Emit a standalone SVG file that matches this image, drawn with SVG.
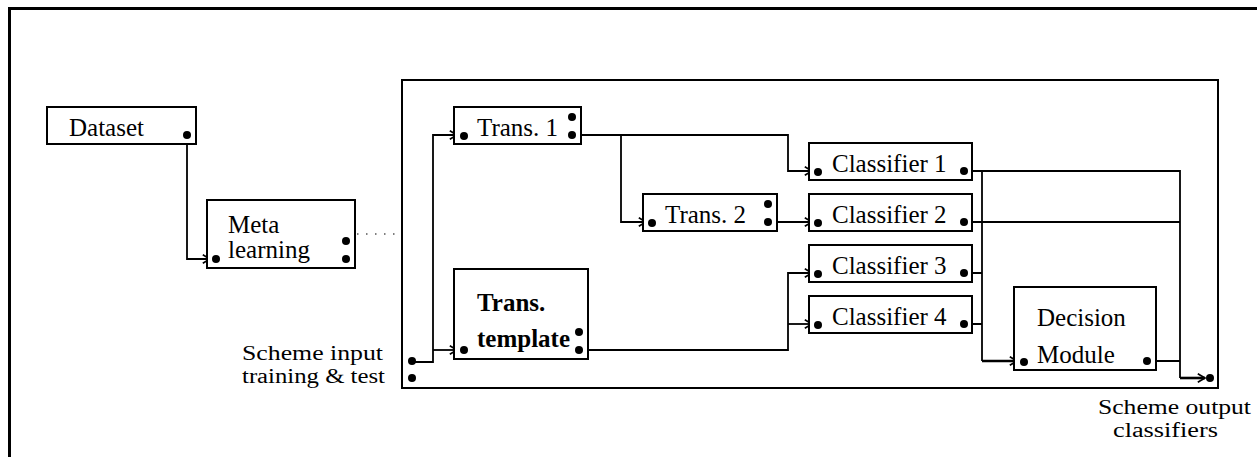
<svg xmlns="http://www.w3.org/2000/svg" width="1257" height="457" viewBox="0 0 1257 457">
<defs>
<style>
.box{fill:#fff;stroke:#000;stroke-width:2}
.t{font-family:"Liberation Serif","Times New Roman",serif;font-size:25px;fill:#000}
.s{font-size:20px}
.b{font-weight:bold}
.dot{fill:#000}
.c{fill:none;stroke:#000;stroke-width:1.8}
.thick{stroke-width:2.6}
</style>
<marker id="ar" markerUnits="userSpaceOnUse" markerWidth="12" markerHeight="12" viewBox="-8 -5 10 10" refX="0" refY="0" orient="auto">
<path d="M-6,-3.5 L0,0 L-6,3.5" fill="none" stroke="#000" stroke-width="1.4"/>
</marker>
</defs>
<rect width="1257" height="457" fill="#fff"/>
<path d="M9.5,457 V8.5 H1257" fill="none" stroke="#000" stroke-width="3"/>

<g id="connectors">
<path class="c" d="M187,135 V259 H210" marker-end="url(#ar)"/>
<path d="M357,234 H398" fill="none" stroke="#000" stroke-width="1.2" stroke-dasharray="1.5,7.5"/>
<path class="c" d="M412,362 H433 V135 H457" marker-end="url(#ar)"/>
<path class="c" d="M433,350 H457" marker-end="url(#ar)"/>
<path class="c" d="M572,135 H788 V171 H812" marker-end="url(#ar)"/>
<path class="c" d="M621,135 V222 H646" marker-end="url(#ar)"/>
<path class="c" d="M768,222 H812" marker-end="url(#ar)"/>
<path class="c" d="M579,350 H788 V273 H812" marker-end="url(#ar)"/>
<path class="c" d="M788,324 H812" marker-end="url(#ar)"/>
<path class="c" d="M964,171 H1180 V378"/>
<path class="c thick" d="M1180,378 H1205" marker-end="url(#ar)"/>
<path class="c" d="M964,222 H1180"/>
<path class="c" d="M982,171 V361"/>
<path class="c thick" d="M982,361 H1017" marker-end="url(#ar)"/>
<path class="c" d="M964,273 H982 M964,324 H982"/>
<path class="c" d="M1147,361 H1180"/>
</g>

<g id="frame">
<rect x="402" y="80" width="816" height="308" fill="none" stroke="#000" stroke-width="2"/>
</g>

<g id="dataset">
<rect class="box" x="47" y="107" width="149" height="37"/>
<text class="t" x="69" y="136">Dataset</text>
<circle class="dot" cx="187" cy="135" r="4"/>
</g>

<g id="meta">
<rect class="box" x="207" y="200" width="148" height="68"/>
<text class="t" x="228" y="233">Meta</text>
<text class="t" x="228" y="258">learning</text>
<circle class="dot" cx="216" cy="259" r="4"/>
<circle class="dot" cx="346" cy="241" r="4"/>
<circle class="dot" cx="346" cy="259" r="4"/>
</g>

<g id="trans1">
<rect class="box" x="454" y="107" width="127" height="37"/>
<text class="t" x="477" y="136">Trans. 1</text>
<circle class="dot" cx="464" cy="136" r="4"/>
<circle class="dot" cx="572" cy="117" r="4"/>
<circle class="dot" cx="572" cy="135" r="4"/>
</g>

<g id="trans2">
<rect class="box" x="643" y="194" width="134" height="37"/>
<text class="t" x="665" y="223">Trans. 2</text>
<circle class="dot" cx="652" cy="223" r="4"/>
<circle class="dot" cx="768" cy="204" r="4"/>
<circle class="dot" cx="768" cy="222" r="4"/>
</g>

<g id="template">
<rect class="box" x="454" y="269" width="134" height="90"/>
<text class="t b" x="477" y="311">Trans.</text>
<text class="t b" x="477" y="347">template</text>
<circle class="dot" cx="464" cy="350" r="4"/>
<circle class="dot" cx="579" cy="332" r="4"/>
<circle class="dot" cx="579" cy="350" r="4"/>
</g>

<g id="classifier1">
<rect class="box" x="809" y="143" width="163" height="37"/>
<text class="t" x="832" y="172">Classifier 1</text>
<circle class="dot" cx="818" cy="172" r="4"/>
<circle class="dot" cx="964" cy="171" r="4"/>
</g>
<g id="classifier2">
<rect class="box" x="809" y="194" width="163" height="37"/>
<text class="t" x="832" y="223">Classifier 2</text>
<circle class="dot" cx="818" cy="223" r="4"/>
<circle class="dot" cx="964" cy="222" r="4"/>
</g>
<g id="classifier3">
<rect class="box" x="809" y="245" width="163" height="37"/>
<text class="t" x="832" y="274">Classifier 3</text>
<circle class="dot" cx="818" cy="274" r="4"/>
<circle class="dot" cx="964" cy="273" r="4"/>
</g>
<g id="classifier4">
<rect class="box" x="809" y="296" width="163" height="37"/>
<text class="t" x="832" y="325">Classifier 4</text>
<circle class="dot" cx="818" cy="325" r="4"/>
<circle class="dot" cx="964" cy="324" r="4"/>
</g>

<g id="decision">
<rect class="box" x="1014" y="287" width="142" height="83"/>
<text class="t" x="1037" y="326">Decision</text>
<text class="t" x="1037" y="363">Module</text>
<circle class="dot" cx="1024" cy="362" r="4"/>
<circle class="dot" cx="1147" cy="361" r="4"/>
</g>

<g id="scheme-input">
<text class="t s" x="242" y="359.5" textLength="141" lengthAdjust="spacingAndGlyphs">Scheme input</text>
<text class="t s" x="242" y="382.5" textLength="143" lengthAdjust="spacingAndGlyphs">training &amp; test</text>
<circle class="dot" cx="412" cy="361" r="4"/>
<circle class="dot" cx="412" cy="378" r="4"/>
</g>

<g id="scheme-output">
<text class="t s" x="1098" y="414" textLength="153" lengthAdjust="spacingAndGlyphs">Scheme output</text>
<text class="t s" x="1113" y="437" textLength="105" lengthAdjust="spacingAndGlyphs">classifiers</text>
<circle class="dot" cx="1210" cy="378" r="4"/>
</g>
</svg>
